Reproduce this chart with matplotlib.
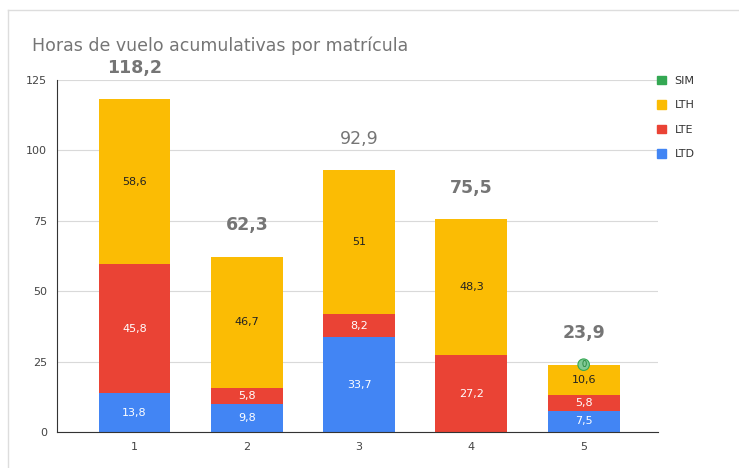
import numpy as np
import matplotlib.pyplot as plt
from matplotlib.lines import Line2D
from matplotlib.patches import Patch

# datos de la gráfica
matriculas = ['1', '2', '3', '4', '5']
ltd = [13.8, 9.8, 33.7, 0, 7.5]
lte = [45.8, 5.8, 8.2, 27.2, 5.8]
lth = [58.6, 46.7, 51, 48.3, 10.6]
sim = [0, 0, 0, 0, 0]
totales = ['118,2', '62,3', '92,9', '75,5', '23,9']

c_ltd = '#4285f4'
c_lte = '#ea4335'
c_lth = '#fbbc04'
c_sim = '#34a853'

fig = plt.figure(figsize=(7.39, 4.68), dpi=100)
ax = fig.add_axes([0.0771, 0.077, 0.813, 0.752])

x = np.arange(1, len(matriculas) + 1)
w = 0.64
ltd_a = np.array(ltd)
lte_a = np.array(lte)
lth_a = np.array(lth)

ax.bar(x, ltd_a, w, color=c_ltd, zorder=2)
ax.bar(x, lte_a, w, bottom=ltd_a, color=c_lte, zorder=2)
ax.bar(x, lth_a, w, bottom=ltd_a + lte_a, color=c_lth, zorder=2)
ax.bar(x, sim, w, bottom=ltd_a + lte_a + lth_a, color=c_sim, zorder=2)

def fmt(v):
    s = ('%.1f' % v).rstrip('0').rstrip('.')
    return s.replace('.', ',')

for i in range(len(x)):
    if ltd_a[i] > 0:
        ax.text(x[i], ltd_a[i] / 2, fmt(ltd_a[i]), ha='center', va='center',
                color='white', fontsize=8, zorder=3)
    if lte_a[i] > 0:
        ax.text(x[i], ltd_a[i] + lte_a[i] / 2, fmt(lte_a[i]), ha='center', va='center',
                color='white', fontsize=8, zorder=3)
    ax.text(x[i], ltd_a[i] + lte_a[i] + lth_a[i] / 2, fmt(lth_a[i]), ha='center',
            va='center', color='#222222', fontsize=8, zorder=3)
    top = ltd_a[i] + lte_a[i] + lth_a[i]
    peso = 'normal' if i == 2 else 'bold'
    ax.text(x[i], top + 8, totales[i], ha='center', va='bottom', color='#757575',
            fontsize=12.5, fontweight=peso, zorder=3, clip_on=False)

# etiqueta SIM = 0 en la barra 5
top5 = ltd_a[4] + lte_a[4] + lth_a[4]
ax.text(x[4], top5, '0', ha='center', va='center', fontsize=6, color='#1e7e34',
        bbox=dict(boxstyle='circle,pad=0.15', fc='#81c995', ec='#34a853', lw=0.8), zorder=4)

ax.set_xlim(0.31, 5.66)
ax.set_ylim(0, 125)
ax.set_yticks([0, 25, 50, 75, 100, 125])
ax.set_xticks(x)
ax.set_xticklabels(matriculas)
ax.tick_params(axis='both', length=0, labelsize=8, colors='#444444', pad=7)
ax.grid(axis='y', color='#d9d9d9', lw=0.8, zorder=0)
for s in ['top', 'right']:
    ax.spines[s].set_visible(False)
ax.spines['left'].set_color('#333333')
ax.spines['bottom'].set_color('#333333')

fig.text(0.043, 0.902, 'Horas de vuelo acumulativas por matrícula', fontsize=12.5,
         color='#757575', va='center')

handles = [Patch(color=c_sim), Patch(color=c_lth), Patch(color=c_lte), Patch(color=c_ltd)]
fig.legend(handles, ['SIM', 'LTH', 'LTE', 'LTD'], loc='upper left',
           bbox_to_anchor=(0.875, 0.86), frameon=False, fontsize=8,
           handlelength=0.8, handleheight=0.8, labelspacing=1.3, handletextpad=0.8,
           labelcolor='#333333')

# marco exterior
fig.add_artist(Line2D([0.011, 1.0], [0.979, 0.979], color='#dddddd', lw=1))
fig.add_artist(Line2D([0.011, 0.011], [0.0, 0.979], color='#dddddd', lw=1))

fig.savefig('out.png', dpi=100)
